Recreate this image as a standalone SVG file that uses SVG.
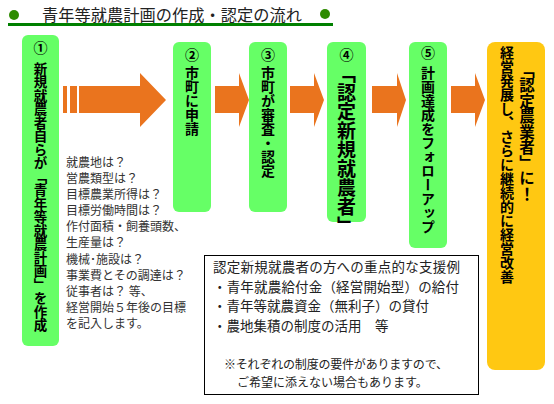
<svg xmlns="http://www.w3.org/2000/svg" width="554" height="404" viewBox="0 0 554 404">
<defs>
<style>
.g{fill:#66FF66}
.o{fill:#FFC812}
.ar{fill:#EA741E}
.v{font-family:"Noto Sans CJK JP","Noto Sans CJK SC",sans-serif;font-weight:700;fill:#000;writing-mode:vertical-rl}
.n{font-family:"Noto Sans CJK JP","Noto Sans CJK SC",sans-serif;font-weight:700;fill:#000;font-size:14px;text-anchor:middle}
.t{font-family:"Noto Sans CJK JP","Noto Sans CJK SC",sans-serif;fill:#333}
.s{font-family:"Noto Sans CJK JP","Noto Sans CJK SC",sans-serif;fill:#222}
</style>
</defs>
<rect width="554" height="404" fill="#fff"/>
<g id="title">
<circle cx="14" cy="15" r="5" fill="#2E8B00"/>
<circle cx="325" cy="14" r="5" fill="#2E8B00"/>
<rect x="8" y="23" width="325" height="3" fill="#008000"/>
<text x="42" y="21" font-family="Noto Sans CJK JP, sans-serif" font-size="16.2" fill="#222" textLength="260">青年等就農計画の作成・認定の流れ</text>
</g>
<g id="connectors">
<rect class="ar" x="63" y="86" width="4" height="27"/>
<rect class="ar" x="70" y="86" width="7" height="27"/>
<polygon class="ar" points="79,86 140,86 140,73 166,100 140,127 140,113 79,113"/>
<polygon class="ar" points="215,86 239,86 239,73 249,100 239,127 239,113 215,113"/>
<polygon class="ar" points="290,86 314,86 314,73 324,100 314,127 314,113 290,113"/>
<polygon class="ar" points="372,86 397,86 397,73 406,100 397,127 397,113 372,113"/>
<polygon class="ar" points="451,86 475,86 475,73 485,100 475,127 475,113 451,113"/>
</g>
<g id="step1">
<rect class="g" x="22" y="35" width="37" height="311" rx="6"/>
<text class="n" x="40.5" y="53">①</text>
<text class="v" x="40.5" y="62" font-size="13.5">新規就農者自らが「青年等就農計画」を作成</text>
</g>
<g id="step2">
<rect class="g" x="173" y="42" width="38" height="170" rx="6"/>
<text class="n" x="192" y="60">②</text>
<text class="v" x="192" y="66" font-size="14">市町に申請</text>
</g>
<g id="step3">
<rect class="g" x="249" y="42" width="38" height="170" rx="6"/>
<text class="n" x="268" y="60">③</text>
<text class="v" x="268" y="66" font-size="14">市町が審査・認定</text>
</g>
<g id="step4">
<rect class="g" x="327" y="42" width="39" height="180" rx="6"/>
<text class="n" x="346.5" y="60">④</text>
<text class="v" x="346.5" y="64" font-size="19">「認定新規就農者」</text>
</g>
<g id="step5">
<rect class="g" x="409" y="42" width="38" height="206" rx="6"/>
<text class="n" x="428" y="58">⑤</text>
<text class="v" x="428" y="66" font-size="14">計画達成をフォローアップ</text>
</g>
<g id="goal">
<rect class="o" x="487" y="42" width="58" height="328" rx="8"/>
<text class="v" x="527" y="62" font-size="15.5">「認定農業者」に！</text>
<text class="v" x="507" y="46" font-size="14">経営発展し、さらに継続的に経営改善</text>
</g>
<g id="checklist" class="t" font-size="12">
<text x="66" y="167">就農地は？</text>
<text x="66" y="183">営農類型は？</text>
<text x="66" y="199">目標農業所得は？</text>
<text x="66" y="215">目標労働時間は？</text>
<text x="66" y="231">作付面積・飼養頭数、</text>
<text x="66" y="247">生産量は？</text>
<text x="66" y="264">機械･施設は？</text>
<text x="66" y="280">事業費とその調達は？</text>
<text x="66" y="296">従事者は？ 等、</text>
<text x="66" y="312">経営開始５年後の目標</text>
<text x="66" y="328">を記入します。</text>
</g>
<g id="support">
<rect x="204.5" y="255.5" width="274" height="139" fill="#fff" stroke="#000" stroke-width="1"/>
<text class="s" x="213" y="272" font-size="13.5" textLength="247">認定新規就農者の方への重点的な支援例</text>
<text class="s" x="213" y="291.5" font-size="13.5" textLength="246">・青年就農給付金（経営開始型）の給付</text>
<text class="s" x="213" y="311" font-size="13.5">・青年等就農資金（無利子）の貸付</text>
<text class="s" x="213" y="331" font-size="13.5">・農地集積の制度の活用　等</text>
<text class="s" x="224" y="369" font-size="12" textLength="224">※それぞれの制度の要件がありますので、</text>
<text class="s" x="237" y="387" font-size="12">ご希望に添えない場合もあります。</text>
</g>
</svg>
